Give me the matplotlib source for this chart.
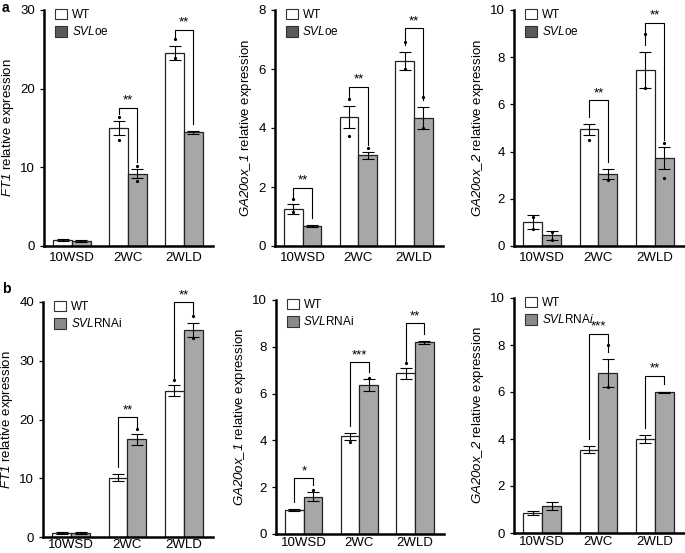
import matplotlib
matplotlib.use("Agg")
import matplotlib.pyplot as plt
from matplotlib.patches import Patch
import numpy as np

plt.rcParams["font.family"] = ["Liberation Sans", "DejaVu Sans"]
plt.rcParams["mathtext.fontset"] = "custom"
# gene names are fully italic (digits too), so route mathtext rm to the italic face
plt.rcParams["mathtext.rm"] = "Liberation Sans:italic"
plt.rcParams["mathtext.it"] = "Liberation Sans:italic"

groups = ["10WSD", "2WC", "2WLD"]

# panel a: SVLoe
a_ft1_wt = [0.8, 15.0, 24.5]
a_ft1_wt_err = [0.15, 0.9, 0.9]
a_ft1_sv = [0.6, 9.2, 14.45]
a_ft1_sv_err = [0.12, 0.6, 0.2]

a_ga1_wt = [1.25, 4.38, 6.28]
a_ga1_wt_err = [0.18, 0.37, 0.3]
a_ga1_sv = [0.68, 3.08, 4.35]
a_ga1_sv_err = [0.03, 0.12, 0.37]

a_ga2_wt = [1.0, 4.94, 7.44]
a_ga2_wt_err = [0.3, 0.23, 0.76]
a_ga2_sv = [0.45, 3.06, 3.74]
a_ga2_sv_err = [0.2, 0.2, 0.47]

# panel b: SVLRNAi
b_ft1_wt = [0.74, 10.1, 24.9]
b_ft1_wt_err = [0.15, 0.55, 0.9]
b_ft1_sv = [0.7, 16.6, 35.3]
b_ft1_sv_err = [0.12, 0.95, 1.2]

b_ga1_wt = [1.04, 4.17, 6.87]
b_ga1_wt_err = [0.04, 0.14, 0.24]
b_ga1_sv = [1.6, 6.37, 8.19]
b_ga1_sv_err = [0.2, 0.24, 0.05]

b_ga2_wt = [0.85, 3.55, 4.0]
b_ga2_wt_err = [0.1, 0.15, 0.15]
b_ga2_sv = [1.16, 6.8, 5.99]
b_ga2_sv_err = [0.17, 0.6, 0.03]

# replicate dots that are visible: (group index, 0=WT/1=mutant, value)
a_ft1_dots = [(1, 0, 16.4), (1, 0, 13.5), (1, 1, 10.2), (1, 1, 8.2), (2, 0, 26.3), (2, 0, 23.9)]
a_ga1_dots = [(0, 0, 1.58), (0, 0, 1.16), (1, 0, 5.0), (1, 0, 3.73), (1, 1, 3.33),
              (2, 0, 6.9), (2, 0, 6.0), (2, 1, 5.06), (2, 1, 4.0)]
a_ga2_dots = [(0, 0, 1.24), (0, 0, 0.7), (0, 1, 0.6), (0, 1, 0.25), (1, 0, 4.5), (1, 1, 2.8),
              (2, 0, 9.0), (2, 0, 6.7), (2, 1, 2.87), (2, 1, 4.35)]
b_ft1_dots = [(1, 1, 18.3), (2, 0, 26.7), (2, 1, 37.6), (2, 1, 33.8)]
b_ga1_dots = [(0, 1, 1.9), (1, 0, 3.95), (1, 1, 6.65), (2, 0, 7.3)]
b_ga2_dots = [(1, 1, 8.0), (1, 1, 6.2)]

# significance: (group index, bracket height, stars)
a_ft1_sig = [(1, 17.6, "**"), (2, 27.5, "**")]
a_ga1_sig = [(0, 1.98, "**"), (1, 5.4, "**"), (2, 7.38, "**")]
a_ga2_sig = [(1, 6.19, "**"), (2, 9.46, "**")]
b_ft1_sig = [(1, 20.4, "**"), (2, 40.0, "**")]
b_ga1_sig = [(0, 2.39, "*"), (1, 7.34, "***"), (2, 9.0, "**")]
b_ga2_sig = [(1, 8.48, "***"), (2, 6.7, "**")]

W = 0.335
BAR_GRAY = "#a7a7a7"
FS = 9.5


def draw(ax, wt, wt_err, sv, sv_err, dots, sig, ymax, yticks, ylabel, legend_lab, legend_col, xpad):
    x = np.arange(len(groups))
    ax.bar(x - W / 2, wt, W, color="white", edgecolor="#222222", lw=0.9, zorder=2)
    ax.bar(x + W / 2, sv, W, color=BAR_GRAY, edgecolor="#222222", lw=0.9, zorder=2)
    ax.errorbar(x - W / 2, wt, yerr=wt_err, fmt="none", ecolor="black", elinewidth=0.8,
                capsize=4, capthick=0.8, zorder=3)
    ax.errorbar(x + W / 2, sv, yerr=sv_err, fmt="none", ecolor="black", elinewidth=0.8,
                capsize=4, capthick=0.8, zorder=3)
    for g, s, v in dots:
        xx = g - W / 2 if s == 0 else g + W / 2
        ax.plot(xx, v, "o", ms=1.3, color="black", zorder=4, clip_on=False)
    tops = [np.array(wt) + np.array(wt_err), np.array(sv) + np.array(sv_err)]
    for g, h, stars in sig:
        x0, x1 = g - W / 2, g + W / 2
        gap = 0.03 * ymax
        y0 = tops[0][g] + gap
        y1 = tops[1][g] + gap
        ax.plot([x0, x0, x1, x1], [min(y0, h), h, h, min(y1, h)], color="black", lw=0.8,
                clip_on=False, zorder=3)
        ax.text(g, h + 0.004 * ymax, stars, ha="center", va="bottom", fontsize=9.5, clip_on=False)
    ax.set_xlim(-0.5, 2.52)
    ax.set_ylim(0, ymax)
    ax.set_yticks(yticks)
    ax.set_xticks(x)
    ax.set_xticklabels(groups, fontsize=FS)
    ax.tick_params(axis="x", length=0, pad=xpad)
    ax.tick_params(axis="y", labelsize=FS, length=3, width=0.9, direction="out")
    ax.set_ylabel(ylabel, fontsize=FS, labelpad=3)
    for sp in ["top", "right"]:
        ax.spines[sp].set_visible(False)
    ax.spines["left"].set_linewidth(1.8)
    ax.spines["bottom"].set_linewidth(1.8)
    handles = [Patch(facecolor="white", edgecolor="#333333", lw=0.8),
               Patch(facecolor=legend_col, edgecolor="#333333", lw=0.8)]
    ax.legend(handles, ["WT", legend_lab], loc="upper left", bbox_to_anchor=(0.03, 1.03),
              frameon=False, fontsize=8.5, handlelength=1.0, handleheight=1.0,
              handletextpad=0.4, labelspacing=0.35, borderaxespad=0.1)


fig = plt.figure(figsize=(6.85, 5.53), dpi=100)
FW, FH = 685.0, 553.0


def add_ax(l, r, t, b):
    return fig.add_axes([l / FW, 1 - b / FH, (r - l) / FW, (b - t) / FH])


ax = add_ax(44, 213, 10, 246)
draw(ax, a_ft1_wt, a_ft1_wt_err, a_ft1_sv, a_ft1_sv_err, a_ft1_dots, a_ft1_sig, 30,
     [0, 10, 20, 30], r"$\mathrm{FT1}$ relative expression", r"$\mathrm{SVL}$oe", "#5a5a5a", 4)
ax = add_ax(275, 443, 10, 246)
draw(ax, a_ga1_wt, a_ga1_wt_err, a_ga1_sv, a_ga1_sv_err, a_ga1_dots, a_ga1_sig, 8,
     [0, 2, 4, 6, 8], r"$\mathrm{GA20ox\_1}$ relative expression", r"$\mathrm{SVL}$oe", "#5a5a5a", 4)
ax = add_ax(514, 684, 10, 246)
draw(ax, a_ga2_wt, a_ga2_wt_err, a_ga2_sv, a_ga2_sv_err, a_ga2_dots, a_ga2_sig, 10,
     [0, 2, 4, 6, 8, 10], r"$\mathrm{GA20ox\_2}$ relative expression", r"$\mathrm{SVL}$oe", "#5a5a5a", 4)

ax = add_ax(43, 213, 302, 537)
draw(ax, b_ft1_wt, b_ft1_wt_err, b_ft1_sv, b_ft1_sv_err, b_ft1_dots, b_ft1_sig, 40,
     [0, 10, 20, 30, 40], r"$\mathrm{FT1}$ relative expression", r"$\mathrm{SVL}$RNAi", "#8a8a8a", 1.5)
ax = add_ax(276, 444, 300, 534)
draw(ax, b_ga1_wt, b_ga1_wt_err, b_ga1_sv, b_ga1_sv_err, b_ga1_dots, b_ga1_sig, 10,
     [0, 2, 4, 6, 8, 10], r"$\mathrm{GA20ox\_1}$ relative expression", r"$\mathrm{SVL}$RNAi", "#8a8a8a", 2.5)
ax = add_ax(514, 684, 298, 533)
draw(ax, b_ga2_wt, b_ga2_wt_err, b_ga2_sv, b_ga2_sv_err, b_ga2_dots, b_ga2_sig, 10,
     [0, 2, 4, 6, 8, 10], r"$\mathrm{GA20ox\_2}$ relative expression",
     r"$\mathrm{SVL}$RNA$\mathrm{i}$", "#8a8a8a", 2.5)

fig.text(2 / FW, 1 - 1 / FH, "a", fontsize=10, fontweight="bold", va="top", ha="left")
fig.text(2 / FW, 1 - 282 / FH, "b", fontsize=10, fontweight="bold", va="top", ha="left")

fig.savefig("out.png", dpi=100)
